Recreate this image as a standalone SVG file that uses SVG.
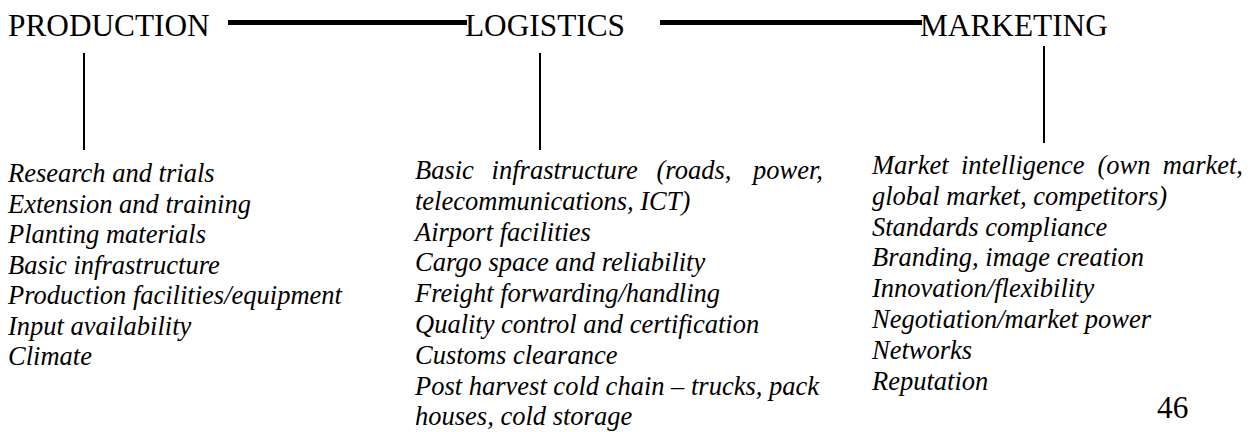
<svg xmlns="http://www.w3.org/2000/svg" width="1250" height="432" viewBox="0 0 1250 432">
  <style>
    text { font-family: 'Liberation Serif', 'Times New Roman', Times, 'DejaVu Serif', serif; fill: #000; }
    .head { font-size: 31.3px; }
    .item { font-size: 26.5px; font-style: italic; }
    .bar { stroke: #000; stroke-width: 5; fill: none; }
    .stem { stroke: #000; stroke-width: 2; fill: none; }
  </style>
  <rect width="1250" height="432" fill="#fff"/>

  <!-- links between the three stages and down to their lists -->
  <g id="connectors">
    <line class="bar" x1="228" y1="22.5" x2="467" y2="22.5"/>
    <line class="bar" x1="660" y1="22.5" x2="922" y2="22.5"/>
    <line class="stem" x1="84" y1="53" x2="84" y2="150"/>
    <line class="stem" x1="540" y1="53" x2="540" y2="150"/>
    <line class="stem" x1="1044" y1="46" x2="1044" y2="143"/>
  </g>

  <g id="production">
    <text class="head" x="8" y="36" font-family="Liberation Serif, serif">PRODUCTION</text>
  </g>
  <g id="logistics">
    <text class="head" x="465" y="36" font-family="Liberation Serif, serif">LOGISTICS</text>
  </g>
  <g id="marketing">
    <text class="head" x="920" y="36" font-family="Liberation Serif, serif">MARKETING</text>
  </g>

  <g id="production-factors">
    <text class="item" x="8" y="182">Research and trials</text>
    <text class="item" x="8" y="212.5">Extension and training</text>
    <text class="item" x="8" y="243">Planting materials</text>
    <text class="item" x="8" y="273.5">Basic infrastructure</text>
    <text class="item" x="8" y="304">Production facilities/equipment</text>
    <text class="item" x="8" y="334.5">Input availability</text>
    <text class="item" x="8" y="365">Climate</text>
  </g>

  <g id="logistics-factors">
    <text class="item" y="179"><tspan x="415">Basic</tspan><tspan x="491.6">infrastructure</tspan><tspan x="656.5">(roads,</tspan><tspan x="823" text-anchor="end">power,</tspan></text>
    <text class="item" x="415" y="209.8">telecommunications, ICT)</text>
    <text class="item" x="415" y="240.6">Airport facilities</text>
    <text class="item" x="415" y="271.4">Cargo space and reliability</text>
    <text class="item" x="415" y="302.2">Freight forwarding/handling</text>
    <text class="item" x="415" y="333">Quality control and certification</text>
    <text class="item" x="415" y="363.8">Customs clearance</text>
    <text class="item" x="415" y="394.6">Post harvest cold chain – trucks, pack</text>
    <text class="item" x="415" y="425.4">houses, cold storage</text>
  </g>

  <g id="marketing-factors">
    <text class="item" y="174"><tspan x="872">Market</tspan><tspan x="961">intelligence</tspan><tspan x="1097.4">(own</tspan><tspan x="1243" text-anchor="end">market,</tspan></text>
    <text class="item" x="872" y="204.8">global market, competitors)</text>
    <text class="item" x="872" y="235.6">Standards compliance</text>
    <text class="item" x="872" y="266.4">Branding, image creation</text>
    <text class="item" x="872" y="297.2">Innovation/flexibility</text>
    <text class="item" x="872" y="328">Negotiation/market power</text>
    <text class="item" x="872" y="358.8">Networks</text>
    <text class="item" x="872" y="389.6">Reputation</text>
  </g>

  <text class="head" x="1157" y="418">46</text>
</svg>
